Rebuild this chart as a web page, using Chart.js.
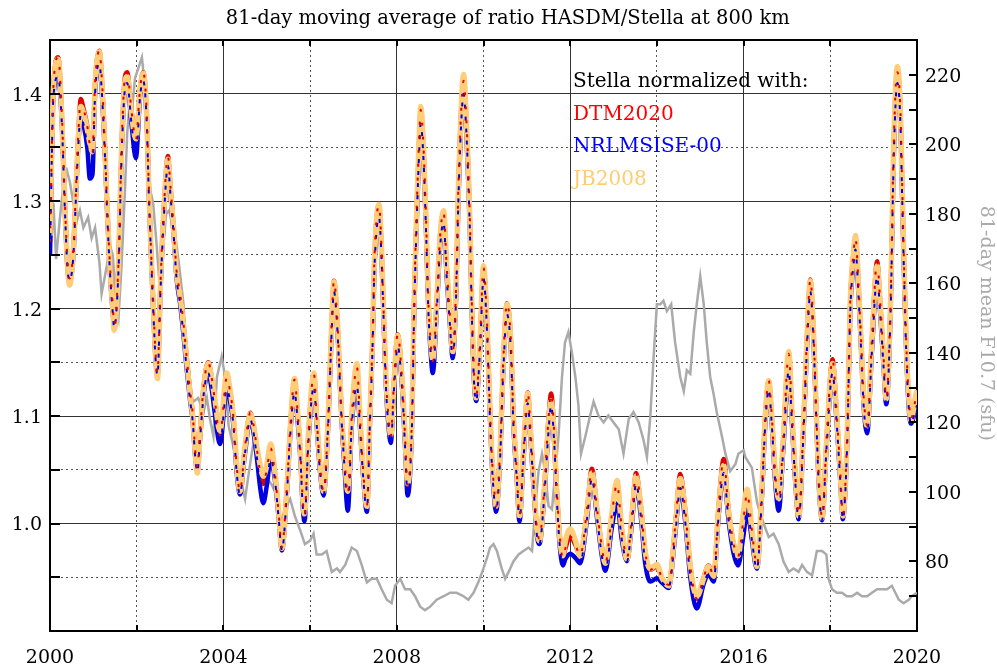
<!DOCTYPE html>
<html>
<head>
<meta charset="utf-8">
<title>HASDM/Stella ratio</title>
<script src="https://cdn.jsdelivr.net/npm/chart.js@4.4.1/dist/chart.umd.min.js"></script>
<style>
  html, body { margin: 0; padding: 0; background: #fff; }
</style>
</head>
<body>
<canvas id="ratioChart" width="997" height="668"></canvas>
<script>
// decimal years of the 81-day averaged ratio curves
const ratioYears = [
  2000.00, 2000.08, 2000.19, 2000.27, 2000.35, 2000.40, 2000.45, 2000.54, 2000.60, 2000.65,
  2000.71, 2000.78, 2000.86, 2000.92, 2000.98, 2001.04, 2001.14, 2001.19, 2001.27, 2001.32,
  2001.38, 2001.45, 2001.48, 2001.58, 2001.65, 2001.73, 2001.78, 2001.88, 2001.98, 2002.08,
  2002.15, 2002.23, 2002.28, 2002.33, 2002.38, 2002.44, 2002.48, 2002.55, 2002.63, 2002.72,
  2002.78, 2002.85, 2002.92, 2003.00, 2003.08, 2003.15, 2003.23, 2003.29, 2003.35, 2003.40,
  2003.46, 2003.55, 2003.65, 2003.73, 2003.81, 2003.92, 2004.08, 2004.15, 2004.23, 2004.31,
  2004.38, 2004.50, 2004.62, 2004.69, 2004.77, 2004.85, 2004.92, 2005.00, 2005.09, 2005.19,
  2005.27, 2005.35, 2005.46, 2005.56, 2005.64, 2005.72, 2005.78, 2005.82, 2005.87, 2005.96,
  2006.09, 2006.15, 2006.23, 2006.31, 2006.42, 2006.50, 2006.55, 2006.62, 2006.67, 2006.73,
  2006.79, 2006.87, 2006.96, 2007.08, 2007.15, 2007.23, 2007.31, 2007.38, 2007.44, 2007.48,
  2007.54, 2007.59, 2007.65, 2007.69, 2007.75, 2007.81, 2007.86, 2007.94, 2008.02, 2008.12,
  2008.19, 2008.25, 2008.35, 2008.40, 2008.46, 2008.52, 2008.55, 2008.62, 2008.68, 2008.73,
  2008.78, 2008.83, 2008.92, 2009.00, 2009.08, 2009.15, 2009.22, 2009.29, 2009.37, 2009.42,
  2009.48, 2009.54, 2009.60, 2009.65, 2009.69, 2009.73, 2009.78, 2009.83, 2009.92, 2010.00,
  2010.08, 2010.14, 2010.19, 2010.25, 2010.29, 2010.38, 2010.46, 2010.54, 2010.63, 2010.69,
  2010.77, 2010.83, 2010.92, 2011.02, 2011.09, 2011.17, 2011.23, 2011.29, 2011.40, 2011.50,
  2011.56, 2011.63, 2011.69, 2011.75, 2011.83, 2011.89, 2012.00, 2012.12, 2012.23, 2012.39,
  2012.50, 2012.62, 2012.73, 2012.81, 2012.96, 2013.08, 2013.19, 2013.31, 2013.42, 2013.52,
  2013.62, 2013.73, 2013.85, 2014.00, 2014.12, 2014.27, 2014.42, 2014.54, 2014.65, 2014.77,
  2014.92, 2015.08, 2015.19, 2015.31, 2015.42, 2015.54, 2015.65, 2015.77, 2015.87, 2016.00,
  2016.08, 2016.19, 2016.27, 2016.31, 2016.42, 2016.50, 2016.58, 2016.65, 2016.73, 2016.81,
  2016.92, 2017.04, 2017.12, 2017.19, 2017.27, 2017.39, 2017.46, 2017.54, 2017.62, 2017.68,
  2017.73, 2017.81, 2017.92, 2018.05, 2018.15, 2018.23, 2018.29, 2018.39, 2018.46, 2018.54,
  2018.58, 2018.65, 2018.71, 2018.77, 2018.85, 2018.96, 2019.08, 2019.15, 2019.23, 2019.29,
  2019.39, 2019.46, 2019.52, 2019.55, 2019.62, 2019.65, 2019.69, 2019.75, 2019.81, 2019.86,
  2019.96, 2020.00
];

// Stella normalized with JB2008
const jb2008 = [
  1.268, 1.405, 1.432, 1.381, 1.290, 1.244, 1.222, 1.254, 1.311, 1.356,
  1.388, 1.381, 1.367, 1.354, 1.346, 1.409, 1.439, 1.416, 1.346, 1.293,
  1.240, 1.198, 1.180, 1.240, 1.346, 1.412, 1.416, 1.381, 1.358, 1.405,
  1.419, 1.381, 1.311, 1.254, 1.205, 1.153, 1.135, 1.223, 1.293, 1.339,
  1.311, 1.275, 1.233, 1.212, 1.184, 1.153, 1.121, 1.100, 1.065, 1.047,
  1.082, 1.128, 1.149, 1.135, 1.114, 1.086, 1.140, 1.125, 1.100, 1.054,
  1.030, 1.072, 1.102, 1.093, 1.072, 1.054, 1.044, 1.054, 1.074, 1.047,
  1.012, 0.977, 1.030, 1.100, 1.135, 1.100, 1.065, 1.030, 1.009, 1.082,
  1.140, 1.100, 1.054, 1.030, 1.100, 1.188, 1.225, 1.195, 1.153, 1.100,
  1.065, 1.030, 1.100, 1.149, 1.100, 1.047, 1.016, 1.100, 1.170, 1.240,
  1.286, 1.297, 1.254, 1.205, 1.135, 1.100, 1.082, 1.135, 1.175, 1.135,
  1.082, 1.037, 1.100, 1.205, 1.293, 1.363, 1.388, 1.346, 1.275, 1.205,
  1.170, 1.153, 1.205, 1.268, 1.291, 1.240, 1.198, 1.160, 1.223, 1.311,
  1.381, 1.418, 1.381, 1.328, 1.275, 1.205, 1.142, 1.117, 1.170, 1.240,
  1.188, 1.117, 1.065, 1.030, 1.016, 1.065, 1.153, 1.204, 1.170, 1.100,
  1.047, 1.007, 1.065, 1.121, 1.082, 1.030, 0.995, 0.984, 1.030, 1.093,
  1.114, 1.082, 1.030, 0.991, 0.970, 0.984, 0.995, 0.984, 0.970, 1.012,
  1.047, 1.012, 0.977, 0.963, 1.009, 1.040, 0.995, 0.967, 1.005, 1.044,
  1.019, 0.974, 0.958, 0.962, 0.949, 0.942, 0.995, 1.042, 1.012, 0.960,
  0.932, 0.949, 0.960, 0.951, 1.012, 1.054, 1.012, 0.981, 0.970, 1.012,
  1.032, 0.995, 0.967, 0.960, 1.030, 1.100, 1.133, 1.100, 1.047, 1.023,
  1.082, 1.160, 1.100, 1.047, 1.007, 1.100, 1.170, 1.226, 1.170, 1.100,
  1.047, 1.005, 1.082, 1.149, 1.100, 1.047, 1.007, 1.082, 1.205, 1.254,
  1.268, 1.223, 1.170, 1.117, 1.091, 1.170, 1.240, 1.205, 1.153, 1.116,
  1.205, 1.346, 1.416, 1.425, 1.381, 1.328, 1.258, 1.170, 1.117, 1.096,
  1.117, 1.124
];

// Stella normalized with NRLMSISE-00
const nrlmsise00 = [
  1.250, 1.398, 1.416, 1.375, 1.285, 1.240, 1.226, 1.250, 1.305, 1.350,
  1.380, 1.370, 1.350, 1.321, 1.325, 1.400, 1.428, 1.405, 1.340, 1.288,
  1.236, 1.195, 1.182, 1.236, 1.340, 1.405, 1.410, 1.372, 1.340, 1.398,
  1.412, 1.375, 1.306, 1.250, 1.200, 1.150, 1.138, 1.218, 1.288, 1.333,
  1.305, 1.270, 1.228, 1.205, 1.175, 1.145, 1.115, 1.096, 1.062, 1.048,
  1.078, 1.122, 1.140, 1.125, 1.100, 1.074, 1.125, 1.115, 1.092, 1.046,
  1.027, 1.066, 1.097, 1.086, 1.062, 1.033, 1.019, 1.035, 1.060, 1.040,
  1.007, 0.975, 1.025, 1.093, 1.122, 1.092, 1.058, 1.023, 1.002, 1.075,
  1.128, 1.093, 1.048, 1.026, 1.094, 1.181, 1.216, 1.187, 1.146, 1.093,
  1.055, 1.012, 1.090, 1.128, 1.090, 1.040, 1.011, 1.094, 1.163, 1.232,
  1.276, 1.285, 1.245, 1.197, 1.127, 1.090, 1.075, 1.128, 1.165, 1.127,
  1.072, 1.026, 1.092, 1.195, 1.282, 1.350, 1.372, 1.335, 1.265, 1.196,
  1.160, 1.140, 1.196, 1.258, 1.280, 1.230, 1.188, 1.154, 1.214, 1.300,
  1.368, 1.400, 1.368, 1.318, 1.266, 1.196, 1.133, 1.114, 1.162, 1.228,
  1.180, 1.108, 1.058, 1.022, 1.011, 1.058, 1.145, 1.195, 1.162, 1.092,
  1.040, 1.002, 1.058, 1.112, 1.075, 1.024, 0.990, 0.981, 1.024, 1.086,
  1.110, 1.076, 1.024, 0.984, 0.961, 0.967, 0.972, 0.968, 0.963, 1.005,
  1.042, 1.005, 0.970, 0.956, 0.996, 1.019, 0.985, 0.965, 0.998, 1.037,
  1.010, 0.963, 0.946, 0.949, 0.945, 0.940, 0.988, 1.033, 1.003, 0.950,
  0.921, 0.944, 0.953, 0.946, 1.005, 1.047, 1.004, 0.972, 0.961, 0.990,
  1.012, 0.985, 0.962, 0.958, 1.023, 1.092, 1.125, 1.092, 1.038, 1.012,
  1.072, 1.142, 1.090, 1.040, 1.004, 1.092, 1.162, 1.216, 1.162, 1.093,
  1.040, 1.003, 1.075, 1.140, 1.092, 1.040, 1.004, 1.075, 1.196, 1.243,
  1.255, 1.213, 1.162, 1.109, 1.084, 1.160, 1.230, 1.196, 1.145, 1.111,
  1.196, 1.335, 1.402, 1.410, 1.370, 1.318, 1.248, 1.162, 1.108, 1.093,
  1.105, 1.110
];

// Stella normalized with DTM2020
const dtm2020 = [
  1.262, 1.408, 1.434, 1.384, 1.292, 1.246, 1.228, 1.256, 1.313, 1.360,
  1.395, 1.385, 1.370, 1.352, 1.345, 1.410, 1.440, 1.418, 1.348, 1.295,
  1.243, 1.202, 1.185, 1.243, 1.350, 1.416, 1.420, 1.384, 1.357, 1.406,
  1.420, 1.383, 1.313, 1.256, 1.207, 1.155, 1.140, 1.225, 1.296, 1.342,
  1.313, 1.277, 1.235, 1.214, 1.186, 1.156, 1.124, 1.103, 1.068, 1.052,
  1.085, 1.130, 1.150, 1.136, 1.112, 1.082, 1.136, 1.124, 1.099, 1.052,
  1.030, 1.072, 1.103, 1.093, 1.070, 1.047, 1.037, 1.050, 1.070, 1.046,
  1.012, 0.978, 1.031, 1.101, 1.134, 1.099, 1.064, 1.029, 1.008, 1.082,
  1.139, 1.100, 1.053, 1.030, 1.101, 1.189, 1.226, 1.195, 1.153, 1.100,
  1.064, 1.027, 1.099, 1.146, 1.099, 1.046, 1.016, 1.101, 1.171, 1.241,
  1.287, 1.296, 1.254, 1.205, 1.135, 1.099, 1.081, 1.136, 1.176, 1.135,
  1.081, 1.035, 1.100, 1.206, 1.294, 1.362, 1.385, 1.346, 1.276, 1.206,
  1.170, 1.151, 1.206, 1.268, 1.290, 1.240, 1.197, 1.160, 1.224, 1.312,
  1.380, 1.412, 1.380, 1.330, 1.277, 1.206, 1.142, 1.118, 1.171, 1.238,
  1.189, 1.117, 1.065, 1.030, 1.016, 1.066, 1.155, 1.205, 1.172, 1.101,
  1.047, 1.007, 1.066, 1.122, 1.084, 1.031, 0.996, 0.986, 1.032, 1.098,
  1.121, 1.086, 1.033, 0.993, 0.968, 0.977, 0.988, 0.980, 0.970, 1.014,
  1.051, 1.013, 0.978, 0.963, 1.008, 1.037, 0.995, 0.968, 1.006, 1.047,
  1.020, 0.974, 0.957, 0.960, 0.949, 0.943, 0.997, 1.046, 1.014, 0.961,
  0.930, 0.950, 0.961, 0.952, 1.014, 1.060, 1.014, 0.981, 0.969, 1.005,
  1.028, 0.994, 0.967, 0.961, 1.031, 1.100, 1.133, 1.100, 1.047, 1.022,
  1.082, 1.158, 1.100, 1.047, 1.008, 1.101, 1.171, 1.227, 1.171, 1.101,
  1.047, 1.006, 1.083, 1.153, 1.101, 1.048, 1.008, 1.083, 1.206, 1.254,
  1.266, 1.223, 1.171, 1.118, 1.091, 1.171, 1.244, 1.207, 1.154, 1.117,
  1.206, 1.347, 1.414, 1.420, 1.382, 1.330, 1.259, 1.171, 1.117, 1.097,
  1.114, 1.120
];

// 81-day mean F10.7 (sfu), right axis
const f107Years = [
  2000.00, 2000.04, 2000.08, 2000.14, 2000.23, 2000.35, 2000.38, 2000.46, 2000.54, 2000.62,
  2000.69, 2000.77, 2000.88, 2000.96, 2001.04, 2001.14, 2001.19, 2001.31, 2001.38, 2001.45,
  2001.52, 2001.58, 2001.65, 2001.73, 2001.78, 2001.85, 2001.91, 2001.96, 2002.04, 2002.12,
  2002.17, 2002.22, 2002.27, 2002.31, 2002.38, 2002.46, 2002.52, 2002.60, 2002.68, 2002.75,
  2002.83, 2002.91, 2002.98, 2003.08, 2003.15, 2003.23, 2003.31, 2003.42, 2003.54, 2003.62,
  2003.69, 2003.77, 2003.85, 2003.96, 2004.04, 2004.12, 2004.23, 2004.35, 2004.50, 2004.58,
  2004.69, 2004.77, 2004.88, 2005.00, 2005.12, 2005.19, 2005.31, 2005.42, 2005.54, 2005.65,
  2005.77, 2005.88, 2006.00, 2006.08, 2006.15, 2006.27, 2006.38, 2006.50, 2006.62, 2006.69,
  2006.81, 2006.96, 2007.08, 2007.19, 2007.31, 2007.42, 2007.54, 2007.65, 2007.77, 2007.88,
  2007.96, 2008.08, 2008.19, 2008.31, 2008.42, 2008.54, 2008.65, 2008.77, 2008.92, 2009.08,
  2009.23, 2009.38, 2009.54, 2009.65, 2009.77, 2009.88, 2010.00, 2010.08, 2010.15, 2010.23,
  2010.31, 2010.42, 2010.50, 2010.58, 2010.69, 2010.81, 2010.92, 2011.04, 2011.12, 2011.19,
  2011.27, 2011.35, 2011.42, 2011.50, 2011.58, 2011.65, 2011.73, 2011.81, 2011.88, 2011.96,
  2012.04, 2012.12, 2012.19, 2012.25, 2012.35, 2012.46, 2012.54, 2012.65, 2012.77, 2012.88,
  2013.00, 2013.12, 2013.23, 2013.35, 2013.46, 2013.58, 2013.69, 2013.77, 2013.85, 2013.92,
  2014.00, 2014.08, 2014.15, 2014.23, 2014.33, 2014.42, 2014.54, 2014.62, 2014.69, 2014.77,
  2014.85, 2014.92, 2015.00, 2015.08, 2015.15, 2015.23, 2015.31, 2015.38, 2015.50, 2015.58,
  2015.69, 2015.81, 2015.88, 2016.00, 2016.04, 2016.19, 2016.31, 2016.38, 2016.46, 2016.58,
  2016.69, 2016.81, 2016.92, 2017.04, 2017.15, 2017.27, 2017.35, 2017.46, 2017.58, 2017.69,
  2017.81, 2017.91, 2017.96, 2018.04, 2018.15, 2018.27, 2018.38, 2018.50, 2018.62, 2018.73,
  2018.85, 2018.96, 2019.08, 2019.19, 2019.31, 2019.42, 2019.50, 2019.58, 2019.69, 2019.81,
  2019.88, 2020.00
];
const f107Mean = [
  180, 174, 183, 167, 179, 193, 193, 189, 183, 178,
  181, 176, 179, 173, 176, 166, 157, 165, 171, 168,
  154, 150, 165, 187, 203, 214, 212, 219, 222, 225,
  219, 211, 200, 187, 183, 171, 161, 169, 180, 181,
  176, 172, 165, 154, 137, 127, 126, 127, 123, 127,
  121, 116, 133, 139, 133, 119, 113, 106, 98, 105,
  114, 111, 106, 104, 102, 100, 91, 95, 98, 93,
  89, 85, 86, 88, 82, 82, 83, 77, 78, 77,
  79, 84, 83, 79, 74, 75, 75, 72, 69, 68,
  73, 75, 72, 72, 70, 67, 66, 67, 69, 70,
  71, 71, 70, 69, 71, 74, 78, 81, 84, 85,
  83, 78, 75, 77, 80, 82, 83, 84, 83, 95,
  106, 111, 106, 96, 95, 105, 116, 133, 143, 146,
  140, 133, 125, 111, 116, 122, 126, 122, 120, 122,
  120, 118, 111, 121, 123, 120, 115, 110, 122, 138,
  154, 154, 155, 152, 154, 143, 133, 129, 135, 134,
  146, 154, 162, 154, 143, 133, 128, 123, 116, 111,
  106, 108, 111, 112, 110, 107, 97, 94, 91, 87,
  88, 85, 80, 77, 78, 77, 79, 77, 76, 83,
  83, 82, 75, 72, 71, 71, 70, 70, 71, 70,
  70, 71, 72, 72, 72, 73, 71, 69, 68, 69,
  70, 71
];

// axis ticks and their labels ('' = tick and grid line only)
const yearTicks = [2000, 2002, 2004, 2006, 2008, 2010, 2012, 2014, 2016, 2018, 2020];
const yearLabels = ['2000', '', '2004', '', '2008', '', '2012', '', '2016', '', '2020'];
const ratioTicks = [0.9, 0.95, 1.0, 1.05, 1.1, 1.15, 1.2, 1.25, 1.3, 1.35, 1.4, 1.45];
const ratioLabels = ['', '', '1.0', '', '1.1', '', '1.2', '', '1.3', '', '1.4', ''];
const f107Ticks = [60, 70, 80, 90, 100, 110, 120, 130, 140, 150, 160, 170, 180, 190, 200, 210, 220, 230];
const f107Labels = ['', '', '80', '', '100', '', '120', '', '140', '', '160', '', '180', '', '200', '', '220', ''];

const legendRows = [
    ['Stella normalized with:', '#000000'],
    ['DTM2020', '#ff0000'],
    ['NRLMSISE-00', '#0000ff'],
    ['JB2008', '#ffcc70']
];

const RED = '#e00000', BLUE = '#0000e0', ORANGE = '#ffcc77', GREY = '#aaaaaa';
const FONT = '"DejaVu Serif", serif';

Chart.defaults.font.family = FONT;
Chart.defaults.font.size = 19;
Chart.defaults.color = '#000';

const pts = (xs, ys) => xs.map((x, i) => ({ x: x, y: ys[i] }));

// solid grid on labelled ticks, dotted on the others, nothing on the frame
function gridColor(c, labels) {
    if (c.index === undefined) return '#333';
    if (c.index === 0 || c.index === labels.length - 1) return 'rgba(0,0,0,0)';
    return labels[c.index] ? '#333' : '#555';
}
function gridDash(c, labels) {
    if (c.index === undefined || !c.tick) return [];
    return labels[c.index] ? [] : [2, 3];
}

// short tick marks drawn inside the frame
const innerTicks = {
    id: 'innerTicks',
    afterDraw(chart) {
        const { ctx, chartArea: a, scales } = chart;
        ctx.save();
        ctx.strokeStyle = '#000';
        ctx.lineWidth = 2;
        ctx.beginPath();
        scales.x.ticks.forEach(t => {
            const px = Math.round(scales.x.getPixelForValue(t.value));
            ctx.moveTo(px, a.bottom); ctx.lineTo(px, a.bottom - 6);
            ctx.moveTo(px, a.top); ctx.lineTo(px, a.top + 6);
        });
        scales.y.ticks.forEach(t => {
            const py = Math.round(scales.y.getPixelForValue(t.value));
            ctx.moveTo(a.left, py); ctx.lineTo(a.left + 10, py);
        });
        scales.y2.ticks.forEach(t => {
            const py = Math.round(scales.y2.getPixelForValue(t.value));
            ctx.moveTo(a.right, py); ctx.lineTo(a.right - 8, py);
        });
        ctx.stroke();
        ctx.restore();
    }
};

// coloured text legend inside the plot
const legendText = {
    id: 'legendText',
    afterDraw(chart) {
        const ctx = chart.ctx;
        ctx.save();
        ctx.font = '20px ' + FONT;
        ctx.textBaseline = 'middle';
        ctx.textAlign = 'left';
        legendRows.forEach((row, i) => {
            ctx.fillStyle = row[1];
            ctx.fillText(row[0], 573, 82 + i * 32.5);
        });
        ctx.restore();
    }
};

new Chart(document.getElementById('ratioChart').getContext('2d'), {
    type: 'line',
    data: {
        datasets: [
            { label: 'DTM2020 dashes', data: pts(ratioYears, dtm2020), borderColor: RED,
              borderWidth: 2, borderDash: [3, 11], borderDashOffset: 0, order: 1,
              cubicInterpolationMode: 'monotone' },
            { label: 'NRLMSISE-00 dashes', data: pts(ratioYears, nrlmsise00), borderColor: BLUE,
              borderWidth: 2, borderDash: [4, 8], borderDashOffset: 6, order: 2,
              cubicInterpolationMode: 'monotone' },
            { label: 'JB2008', data: pts(ratioYears, jb2008), borderColor: ORANGE,
              borderWidth: 5.5, order: 3, cubicInterpolationMode: 'monotone' },
            { label: 'NRLMSISE-00', data: pts(ratioYears, nrlmsise00), borderColor: BLUE,
              borderWidth: 4.5, order: 4, cubicInterpolationMode: 'monotone' },
            { label: 'DTM2020', data: pts(ratioYears, dtm2020), borderColor: RED,
              borderWidth: 4.5, order: 5, cubicInterpolationMode: 'monotone' },
            { label: 'F10.7', data: pts(f107Years, f107Mean), borderColor: GREY,
              borderWidth: 2.5, order: 6, yAxisID: 'y2' }
        ]
    },
    options: {
        responsive: false,
        animation: false,
        events: [],
        elements: { point: { radius: 0 }, line: { fill: false, borderCapStyle: 'butt' } },
        layout: { padding: 0 },
        plugins: {
            legend: { display: false },
            tooltip: { enabled: false },
            title: {
                display: true,
                // leading spaces nudge the centred title to the right, like the original
                text: '   81-day moving average of ratio HASDM/Stella at 800 km',
                color: '#000',
                font: { family: FONT, size: 19.5, weight: 'normal', lineHeight: 1.2 },
                padding: { top: 7, bottom: 9.6 }
            }
        },
        scales: {
            x: {
                type: 'linear', position: 'bottom', min: 2000, max: 2020,
                afterBuildTicks: s => { s.ticks = yearTicks.map(v => ({ value: v })); },
                ticks: { callback: (v, i) => yearLabels[i], padding: 16, maxRotation: 0, autoSkip: false },
                grid: { color: c => gridColor(c, yearLabels), lineWidth: 1, drawTicks: false },
                border: { color: '#000', width: 2, dash: c => gridDash(c, yearLabels) },
                afterFit: s => { s.height = 37; }
            },
            x2: {
                type: 'linear', position: 'top', min: 2000, max: 2020,
                ticks: { display: false },
                grid: { drawOnChartArea: false, drawTicks: false },
                border: { color: '#000', width: 2 },
                afterFit: s => { s.height = 0; }
            },
            y: {
                type: 'linear', position: 'left', min: 0.9, max: 1.45,
                afterBuildTicks: s => { s.ticks = ratioTicks.map(v => ({ value: v })); },
                ticks: { callback: (v, i) => ratioLabels[i], padding: 8, labelOffset: 2, autoSkip: false },
                grid: { color: c => gridColor(c, ratioLabels), lineWidth: 1, drawTicks: false },
                border: { color: '#000', width: 2, dash: c => gridDash(c, ratioLabels) },
                afterFit: s => { s.width = 50; }
            },
            y2: {
                type: 'linear', position: 'right', min: 60, max: 230,
                afterBuildTicks: s => { s.ticks = f107Ticks.map(v => ({ value: v })); },
                ticks: { callback: (v, i) => f107Labels[i], padding: 8, labelOffset: 2, autoSkip: false },
                grid: { drawOnChartArea: false, drawTicks: false },
                border: { color: '#000', width: 2 },
                title: {
                    display: true,
                    // trailing spaces lift the centred axis title a little
                    text: '81-day mean F10.7 (sfu)    ',
                    color: GREY,
                    font: { family: FONT, size: 19 }, padding: { top: 0, bottom: 0 }
                },
                afterFit: s => { s.width = 80; }
            }
        }
    },
    plugins: [innerTicks, legendText]
});
</script>
</body>
</html>
